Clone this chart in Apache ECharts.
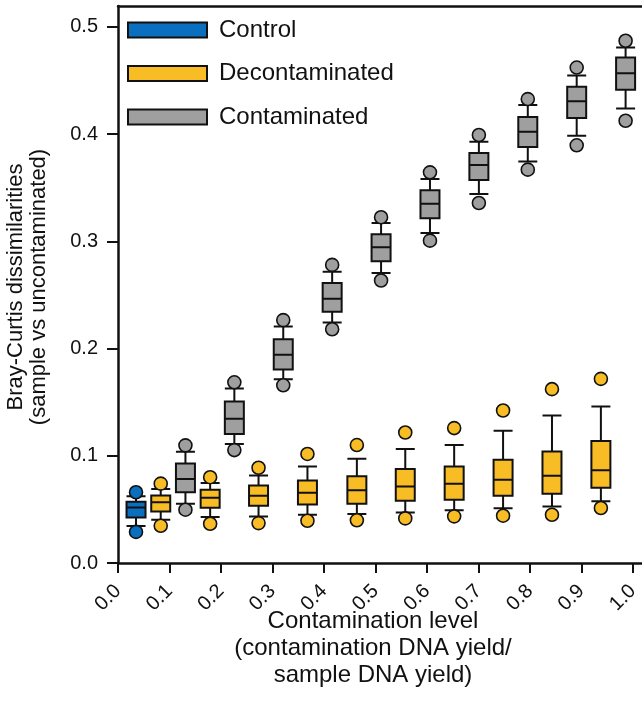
<!DOCTYPE html>
<html>
<head>
<meta charset="utf-8">
<script src="https://cdn.jsdelivr.net/npm/echarts@6/dist/echarts.min.js"></script>
<style>
  html, body { margin: 0; padding: 0; background: #fff; }
  #chart { width: 642px; height: 707px; }
</style>
</head>
<body>
<div id="chart"></div>
<script>
// tick labels of the contamination axis
const tickLabels = ['0.0', '0.1', '0.2', '0.3', '0.4', '0.5', '0.6', '0.7', '0.8', '0.9', '1.0'];

// where each box sits along the x axis (boxes sit between the ticks)
const controlX = [0.035];
const decontX = [0.083, 0.179, 0.273, 0.368, 0.464, 0.558, 0.653, 0.748, 0.843, 0.938];
const contamX = [0.131, 0.226, 0.321, 0.416, 0.511, 0.606, 0.701, 0.796, 0.891, 0.986];

// [lower whisker, Q1, median, Q3, upper whisker]
const controlBox = [
    [0.0345, 0.0425, 0.0518, 0.0572, 0.0622]
];
const decontBox = [
    [0.0403, 0.0480, 0.0566, 0.0630, 0.0690],
    [0.0428, 0.0516, 0.0609, 0.0684, 0.0747],
    [0.0434, 0.0534, 0.0628, 0.0722, 0.0816],
    [0.0450, 0.0546, 0.0656, 0.0770, 0.0900],
    [0.0457, 0.0553, 0.0678, 0.0808, 0.0972],
    [0.0472, 0.0580, 0.0714, 0.0876, 0.1062],
    [0.0491, 0.0590, 0.0740, 0.0901, 0.1100],
    [0.0510, 0.0627, 0.0777, 0.0963, 0.1233],
    [0.0528, 0.0646, 0.0814, 0.1040, 0.1376],
    [0.0575, 0.0702, 0.0864, 0.1137, 0.1460]
];
const contamBox = [
    [0.0553, 0.0659, 0.0784, 0.0928, 0.1038],
    [0.1110, 0.1204, 0.1346, 0.1505, 0.1628],
    [0.1713, 0.1804, 0.1941, 0.2087, 0.2206],
    [0.2243, 0.2343, 0.2465, 0.2612, 0.2717],
    [0.2705, 0.2814, 0.2944, 0.3065, 0.3171],
    [0.3078, 0.3214, 0.3351, 0.3475, 0.3581],
    [0.3441, 0.3571, 0.3711, 0.3823, 0.3929],
    [0.3745, 0.3879, 0.4022, 0.4158, 0.4270],
    [0.3985, 0.4150, 0.4305, 0.4440, 0.4545],
    [0.4239, 0.4413, 0.4568, 0.4714, 0.4807]
];

// outliers: one below and one above each box
const controlLow = [0.0290];
const controlHigh = [0.0660];
const decontLow = [0.0347, 0.0366, 0.0372, 0.0394, 0.0398, 0.0416, 0.0435, 0.0441, 0.0450, 0.0513];
const decontHigh = [0.0740, 0.0800, 0.0888, 0.1017, 0.1100, 0.1217, 0.1258, 0.1422, 0.1621, 0.1717];
const contamLow = [0.0497, 0.1053, 0.1657, 0.2180, 0.2634, 0.3006, 0.3357, 0.3668, 0.3895, 0.4124];
const contamHigh = [0.1097, 0.1685, 0.2265, 0.2780, 0.3224, 0.3643, 0.3991, 0.4326, 0.4620, 0.4870];

const FONT = 'Liberation Sans, Arial, Helvetica, sans-serif';
const INK = '#111';
const colors = { Control: '#0B6FC0', Decontaminated: '#F8BC25', Contaminated: '#9F9F9F' };
const X_MAX = 1.0175;

const chart = echarts.init(document.getElementById('chart'));

function boxSeries(name, xs, boxes, axisIndex) {
    return {
        name: name,
        type: 'boxplot',
        xAxisIndex: axisIndex,
        boxWidth: [19, 19],
        itemStyle: { color: colors[name], borderColor: INK, borderWidth: 2 },
        emphasis: { disabled: true },
        data: boxes.map((b, i) => [xs[i]].concat(b)),
        z: 3
    };
}

function outlierSeries(name, xs, low, high, axisIndex) {
    const pts = [];
    xs.forEach((x, i) => {
        pts.push([x, low[i]]);
        pts.push([x, high[i]]);
    });
    return {
        name: name,
        type: 'scatter',
        xAxisIndex: axisIndex,
        symbol: 'circle',
        symbolSize: 13,
        itemStyle: { color: colors[name], borderColor: INK, borderWidth: 1.6, opacity: 1 },
        emphasis: { disabled: true },
        data: pts,
        z: 4
    };
}

const hiddenX = { type: 'value', min: 0, max: X_MAX, show: false };

const option = {
    animation: false,
    backgroundColor: '#fff',
    textStyle: { fontFamily: FONT },
    grid: { left: 118, right: 0, top: 6, bottom: 144 },
    legend: {
        orient: 'vertical',
        left: 127,
        top: 18,
        padding: 0,
        itemWidth: 79,
        itemHeight: 15,
        itemGap: 19.5,
        icon: 'rect',
        selectedMode: false,
        textStyle: { fontSize: 24, color: INK, lineHeight: 24, padding: [0, 0, 0, 7] },
        data: ['Control', 'Decontaminated', 'Contaminated'].map(n => ({
            name: n,
            icon: 'rect',
            itemStyle: { color: colors[n], borderColor: INK, borderWidth: 2 }
        }))
    },
    xAxis: [
        {
            type: 'value',
            min: 0,
            max: X_MAX,
            interval: 0.1,
            axisLine: { show: true, lineStyle: { color: INK, width: 2.5 } },
            axisTick: { show: true, length: 10, lineStyle: { color: INK, width: 2 } },
            splitLine: { show: false },
            axisLabel: {
                rotate: 45,
                margin: 25,
                fontSize: 20,
                color: INK,
                showMaxLabel: false,
                formatter: v => {
                    const k = Math.round(v * 10);
                    return Math.abs(v * 10 - k) < 1e-6 ? tickLabels[k] : '';
                }
            }
        },
        hiddenX,
        hiddenX,
        {
            // top frame line
            type: 'value',
            position: 'top',
            min: 0,
            max: X_MAX,
            axisLine: { show: true, lineStyle: { color: INK, width: 2.5 } },
            axisTick: { show: false },
            axisLabel: { show: false },
            splitLine: { show: false }
        }
    ],
    yAxis: {
        type: 'value',
        min: 0,
        max: 0.5194,
        interval: 0.1,
        axisLine: { show: true, lineStyle: { color: INK, width: 2.5 } },
        axisTick: { show: true, length: 11, lineStyle: { color: INK, width: 2 } },
        splitLine: { show: false },
        axisLabel: {
            margin: 20,
            fontSize: 20,
            color: INK,
            showMaxLabel: false,
            formatter: v => (Math.abs(v * 10 - Math.round(v * 10)) < 1e-6 ? v.toFixed(1) : '')
        }
    },
    graphic: [
        {
            type: 'text',
            x: 27,
            y: 287,
            rotation: Math.PI / 2,
            style: {
                text: 'Bray-Curtis dissimilarities\n(sample vs uncontaminated)',
                font: '22px ' + FONT,
                fill: INK,
                textAlign: 'center',
                textVerticalAlign: 'middle',
                lineHeight: 23
            }
        },
        {
            type: 'text',
            x: 373,
            y: 648,
            style: {
                text: 'Contamination level\n(contamination DNA yield/\nsample DNA yield)',
                font: '24px ' + FONT,
                fill: INK,
                textAlign: 'center',
                textVerticalAlign: 'middle',
                lineHeight: 27
            }
        }
    ],
    series: [
        boxSeries('Control', controlX, controlBox, 0),
        boxSeries('Decontaminated', decontX, decontBox, 1),
        boxSeries('Contaminated', contamX, contamBox, 2),
        outlierSeries('Control', controlX, controlLow, controlHigh, 0),
        outlierSeries('Decontaminated', decontX, decontLow, decontHigh, 1),
        outlierSeries('Contaminated', contamX, contamLow, contamHigh, 2)
    ]
};

chart.setOption(option);
window.addEventListener('resize', () => chart.resize());
</script>
</body>
</html>
